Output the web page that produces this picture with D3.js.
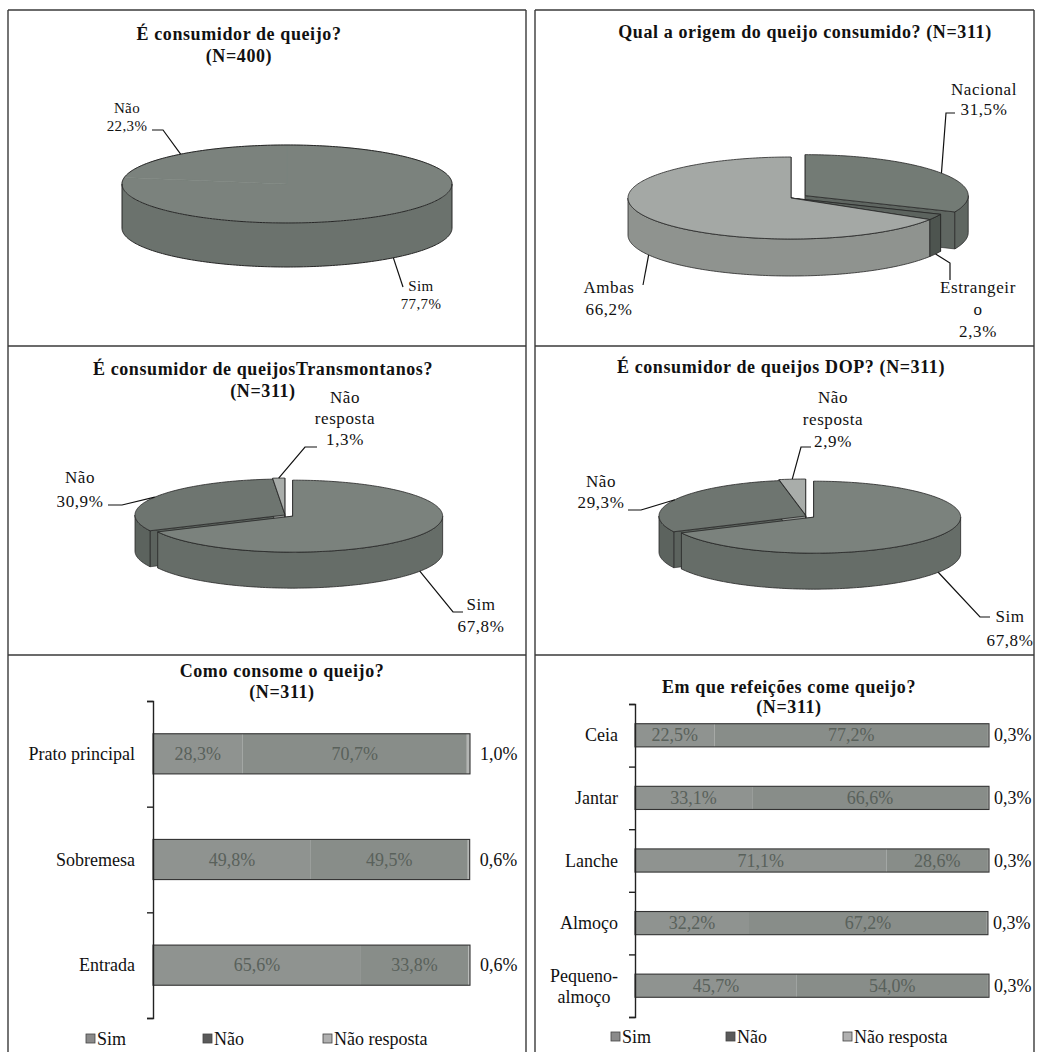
<!DOCTYPE html>
<html>
<head>
<meta charset="utf-8">
<script src="https://cdn.jsdelivr.net/npm/d3@7"></script>
<style>
  body { margin: 0; background: #fff; }
  svg { display: block; }
</style>
</head>
<body>
<div id="chart"></div>
<script>
// ---- data ----
const pie1Labels = ["Sim", "Não"];
const pie1Values = [77.7, 22.3];

const pie2Labels = ["Nacional", "Estrangeiro", "Ambas"];
const pie2Values = [31.5, 2.3, 66.2];

const pie3Labels = ["Sim", "Não", "Não resposta"];
const pie3Values = [67.8, 30.9, 1.3];

const pie4Labels = ["Sim", "Não", "Não resposta"];
const pie4Values = [67.8, 29.3, 2.9];

const seriesNames = ["Sim", "Não", "Não resposta"];

const bar1Categories = ["Prato principal", "Sobremesa", "Entrada"];
const bar1Sim = [28.3, 49.8, 65.6];
const bar1Nao = [70.7, 49.5, 33.8];
const bar1NR = [1.0, 0.6, 0.6];

const bar2Categories = ["Ceia", "Jantar", "Lanche", "Almoço", "Pequeno-almoço"];
const bar2Sim = [22.5, 33.1, 71.1, 32.2, 45.7];
const bar2Nao = [77.2, 66.6, 28.6, 67.2, 54.0];
const bar2NR = [0.3, 0.3, 0.3, 0.3, 0.3];

const title1 = ["É consumidor de queijo?", "(N=400)"];
const title2 = ["Qual a origem do queijo consumido? (N=311)"];
const title3 = ["É consumidor de queijosTransmontanos?", "(N=311)"];
const title4 = ["É consumidor de queijos DOP? (N=311)"];
const title5 = ["Como consome o queijo?", "(N=311)"];
const title6 = ["Em que refeições come queijo?", "(N=311)"];

// ---- constants ----
const width = 1037;
const height = 1052;
const edge = "#262626";
const serif = "'Liberation Serif', 'DejaVu Serif', serif";
const fmt = v => d3.format(".1f")(v).replace(".", ",") + "%";

const svg = d3.select("#chart").append("svg")
  .attr("width", width)
  .attr("height", height)
  .attr("font-family", serif);

// panel frame
const frame = svg.append("g").attr("stroke", "#3a3a3a").attr("stroke-width", 1.4).attr("fill", "none");
[[8, 10, 526, 10], [535, 10, 1034, 10],
 [8, 10, 8, 1052], [526, 10, 526, 1052], [535, 10, 535, 1052], [1034, 10, 1034, 1052],
 [8, 346, 526, 346], [535, 346, 1034, 346],
 [8, 655, 526, 655], [535, 655, 1034, 655]]
  .forEach(l => frame.append("line").attr("x1", l[0]).attr("y1", l[1]).attr("x2", l[2]).attr("y2", l[3]));

function addText(sel, size) {
  return sel.append("text")
    .attr("font-family", serif)
    .attr("font-size", size)
    .attr("fill", "#111");
}

function title(lines, x, y, lh) {
  lines.forEach((t, i) => {
    addText(svg, "18px")
      .attr("x", x).attr("y", y + i * lh)
      .attr("text-anchor", "middle")
      .attr("font-weight", "bold")
      .attr("letter-spacing", "0.6px")
      .text(t);
  });
}

function wrapLabel(name) {
  const out = [];
  name.split(" ").forEach(w => {
    while (w.length > 10) { out.push(w.slice(0, 10)); w = w.slice(10); }
    out.push(w);
  });
  return out;
}

function drawPie(cfg) {
  const k = cfg.ry / cfg.rx;
  const arcs = d3.pie().sort(null).value(d => d)(cfg.values);
  arcs.forEach((a, i) => {
    a.mid = (a.startAngle + a.endAngle) / 2;
    const ex = cfg.explode[i] || 0;
    a.ox = ex * Math.sin(a.mid);
    a.oy = -ex * Math.cos(a.mid) * k;
  });
  const pt = (a, t, down) => [
    cfg.cx + a.ox + cfg.rx * Math.sin(t),
    cfg.cy + a.oy - cfg.ry * Math.cos(t) + (down ? cfg.depth : 0)
  ];
  const ring = (a, t0, t1, down) => {
    const n = Math.max(2, Math.ceil((t1 - t0) / 0.02));
    return d3.range(n + 1).map(j => pt(a, t0 + (t1 - t0) * j / n, down));
  };
  const line = d3.line();
  const g = svg.append("g");
  const sw = cfg.innerEdges ? 0.8 : 0;

  // radial walls (seen through exploded gaps)
  if (cfg.innerEdges) {
    arcs.forEach((a, i) => {
      [a.startAngle, a.endAngle].forEach(t => {
        const c = [cfg.cx + a.ox, cfg.cy + a.oy];
        const r = pt(a, t, false);
        g.append("path")
          .attr("d", line([c, r, [r[0], r[1] + cfg.depth], [c[0], c[1] + cfg.depth]]) + "Z")
          .attr("fill", cfg.side[i])
          .attr("stroke", edge).attr("stroke-width", 0.6);
      });
    });
  }

  // outer front walls
  arcs.forEach((a, i) => {
    const t0 = Math.max(a.startAngle, Math.PI / 2);
    const t1 = Math.min(a.endAngle, Math.PI * 1.5);
    if (t1 <= t0) return;
    const pts = ring(a, t0, t1, false).concat(ring(a, t0, t1, true).reverse());
    g.append("path")
      .attr("d", line(pts) + "Z")
      .attr("fill", cfg.side[i])
      .attr("stroke", cfg.innerEdges ? edge : "none").attr("stroke-width", sw);
  });

  // top faces
  arcs.forEach((a, i) => {
    const pts = [[cfg.cx + a.ox, cfg.cy + a.oy]].concat(ring(a, a.startAngle, a.endAngle, false));
    g.append("path")
      .attr("d", line(pts) + "Z")
      .attr("fill", cfg.top[i])
      .attr("stroke", cfg.innerEdges ? edge : cfg.top[i]).attr("stroke-width", cfg.innerEdges ? 0.8 : 0.5);
  });

  // plain outline when slices are not separated
  if (!cfg.innerEdges) {
    const a0 = {ox: 0, oy: 0};
    const outline = ring(a0, 0, Math.PI * 2, false);
    g.append("path").attr("d", line(outline) + "Z")
      .attr("fill", "none").attr("stroke", edge).attr("stroke-width", 1);
    const low = ring(a0, Math.PI / 2, Math.PI * 1.5, true);
    g.append("path").attr("d", line([pt(a0, Math.PI / 2, false)].concat(low, [pt(a0, Math.PI * 1.5, false)])))
      .attr("fill", "none").attr("stroke", edge).attr("stroke-width", 1);
  }

  // labels with leader lines
  arcs.forEach((a, i) => {
    const L = cfg.layout[i];
    const front = Math.cos(a.mid) < 0;
    const start = pt(a, a.mid, front);
    g.append("path")
      .attr("d", line([start].concat(L.pts)))
      .attr("fill", "none")
      .attr("stroke", "#111").attr("stroke-width", 1.2);
    const lines = wrapLabel(cfg.labels[i]).concat([fmt(cfg.values[i])]);
    lines.forEach((t, j) => {
      addText(g, cfg.fontSize)
        .attr("x", L.x).attr("y", L.y + j * L.lh)
        .attr("text-anchor", "middle")
        .attr("letter-spacing", cfg.spacing)
        .text(t);
    });
  });
}

function drawBars(cfg) {
  const n = cfg.categories.length;
  const x = d3.scaleLinear().domain([0, 100]).range([cfg.x0, cfg.x1]);
  const y = d3.scaleBand().domain(cfg.categories)
    .range([cfg.y0, cfg.y1])
    .paddingInner(cfg.pad).paddingOuter(cfg.pad / 2);
  const rows = cfg.categories.map((c, i) => ({
    cat: c, "Sim": cfg.sim[i], "Não": cfg.nao[i], "Não resposta": cfg.nr[i]
  }));
  const stacked = d3.stack().keys(seriesNames)(rows);
  const fills = ["#8f9390", "#888d89", "#b3b5b3"];
  const g = svg.append("g");

  stacked.forEach((s, si) => {
    g.selectAll(null).data(s).join("rect")
      .attr("x", d => x(d[0]))
      .attr("width", d => x(d[1]) - x(d[0]))
      .attr("y", d => y(d.data.cat))
      .attr("height", y.bandwidth())
      .attr("fill", fills[si]);
  });
  g.selectAll(null).data(rows).join("rect")
    .attr("x", x(0))
    .attr("width", d => x(d["Sim"] + d["Não"] + d["Não resposta"]) - x(0))
    .attr("y", d => y(d.cat))
    .attr("height", y.bandwidth())
    .attr("fill", "none")
    .attr("stroke", "#333").attr("stroke-width", 1.1);

  // value labels
  stacked.forEach((s, si) => {
    g.selectAll(null).data(s).join("text")
      .attr("font-family", serif)
      .attr("font-size", "18px")
      .attr("x", d => si < 2 ? (x(d[0]) + x(d[1])) / 2 : x(d[1]) + cfg.outGap)
      .attr("y", d => y(d.data.cat) + y.bandwidth() / 2 + 6)
      .attr("text-anchor", si < 2 ? "middle" : "start")
      .attr("fill", si < 2 ? "#59615b" : "#111")
      .text(d => fmt(d[1] - d[0]));
  });

  // category axis with ticks at band boundaries
  const yb = d3.scaleLinear().domain([0, n]).range([cfg.y0, cfg.y1]);
  const ax = g.append("g")
    .attr("transform", `translate(${cfg.x0},0)`)
    .call(d3.axisLeft(yb).tickValues(d3.range(n + 1)).tickSize(6).tickFormat(""));
  ax.selectAll("path, line").attr("stroke", "#222").attr("stroke-width", 1.4);

  // category labels
  cfg.categories.forEach(c => {
    const cy = y(c) + y.bandwidth() / 2;
    if (c.length > 12 && c.includes("-")) {
      const cut = c.indexOf("-") + 1;
      const t0 = addText(g, "18px")
        .attr("x", cfg.x0 - cfg.labelGap).attr("y", cy - 4)
        .attr("text-anchor", "end")
        .text(c.slice(0, cut));
      const w = t0.node().getComputedTextLength();
      addText(g, "18px")
        .attr("x", cfg.x0 - cfg.labelGap - w / 2).attr("y", cy + 17)
        .attr("text-anchor", "middle")
        .text(c.slice(cut));
    } else {
      addText(g, "18px")
        .attr("x", cfg.x0 - cfg.labelGap).attr("y", cy + 6)
        .attr("text-anchor", "end")
        .text(c);
    }
  });

  // legend
  const legFills = ["#8a8a8a", "#5a5a5a", "#b0b0b0"];
  let lx = cfg.legX;
  seriesNames.forEach((s, i) => {
    lx += cfg.legStep[i];
    g.append("rect")
      .attr("x", lx).attr("y", cfg.legY - 11)
      .attr("width", 9).attr("height", 9)
      .attr("fill", legFills[i]).attr("stroke", "#444").attr("stroke-width", 0.8);
    addText(g, "18px")
      .attr("x", lx + 11).attr("y", cfg.legY)
      .text(s);
  });
}

// ---- titles ----
title(title1, 239, 40, 22);
title(title2, 805, 38, 22);
title(title3, 263, 375, 22);
title(title4, 781, 373, 22);
title(title5, 282, 677, 21);
title(title6, 789, 693, 20);

// ---- pies ----
const topA = ["#7b827d", "#6e7570", "#a9adaa"];
const sideA = ["#666d68", "#5c635e", "#939794"];

drawPie({
  labels: pie1Labels, values: pie1Values,
  cx: 287, cy: 184, rx: 165, ry: 39, depth: 44,
  explode: [0, 0], innerEdges: false,
  top: ["#7b827d", "#7b827d"], side: ["#6b726d", "#6b726d"],
  fontSize: "15px", spacing: "0.4px",
  layout: [
    {x: 421, y: 291, lh: 18, pts: [[403, 287]]},
    {x: 127, y: 113, lh: 18, pts: [[163, 130], [152, 130]]}
  ]
});

drawPie({
  labels: pie2Labels, values: pie2Values,
  cx: 791, cy: 198, rx: 163, ry: 41, depth: 37,
  explode: [17, 0, 0], innerEdges: true,
  top: ["#737b75", "#5c635e", "#a4a8a5"], side: ["#5f6661", "#4d544f", "#8f938f"],
  fontSize: "17px", spacing: "0.6px",
  layout: [
    {x: 984, y: 95, lh: 20, pts: [[946, 113], [955, 113]]},
    {x: 978, y: 293, lh: 22, pts: [[950, 263], [950, 280]]},
    {x: 609, y: 293, lh: 22, pts: [[643, 285]]}
  ]
});

drawPie({
  labels: pie3Labels, values: pie3Values,
  cx: 285, cy: 515, rx: 150, ry: 36, depth: 36,
  explode: [9, 0, 4], innerEdges: true,
  top: topA, side: sideA,
  fontSize: "17px", spacing: "0.6px",
  layout: [
    {x: 481, y: 610, lh: 22, pts: [[453, 612], [463, 612]]},
    {x: 80, y: 483, lh: 24, pts: [[122, 505], [108, 505]]},
    {x: 345, y: 403, lh: 21, pts: [[305, 447], [317, 447]]}
  ]
});

drawPie({
  labels: pie4Labels, values: pie4Values,
  cx: 806, cy: 516, rx: 147, ry: 36, depth: 36,
  explode: [9, 0, 4], innerEdges: true,
  top: topA, side: sideA,
  fontSize: "17px", spacing: "0.6px",
  layout: [
    {x: 1010, y: 622, lh: 24, pts: [[980, 617], [990, 617]]},
    {x: 601, y: 487, lh: 21, pts: [[641, 510], [628, 510]]},
    {x: 833, y: 403, lh: 22, pts: [[801, 447], [811, 447]]}
  ]
});

// ---- bars ----
drawBars({
  categories: bar1Categories, sim: bar1Sim, nao: bar1Nao, nr: bar1NR,
  x0: 153, x1: 470, y0: 701, y1: 1018, pad: 0.62,
  outGap: 10, labelGap: 18,
  legX: 86, legY: 1045, legStep: [0, 117, 120]
});

drawBars({
  categories: bar2Categories, sim: bar2Sim, nao: bar2Nao, nr: bar2NR,
  x0: 635, x1: 989, y0: 704, y1: 1017, pad: 0.63,
  outGap: 5, labelGap: 17,
  legX: 611, legY: 1043, legStep: [0, 115, 117]
});
</script>
</body>
</html>
